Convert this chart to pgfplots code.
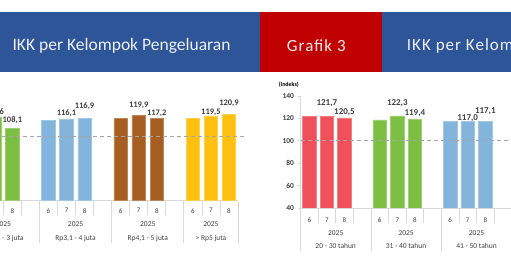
\documentclass[border=0pt]{standalone}
\usepackage{pgfplots}
\pgfplotsset{compat=1.18}
\usepackage{fontspec}
\setmainfont{Carlito}
\definecolor{hblue}{HTML}{2E5597}
\definecolor{hred}{HTML}{C00000}
\definecolor{cred}{HTML}{F0505A}
\definecolor{cgreen}{HTML}{7CBF43}
\definecolor{cblue}{HTML}{82B4DC}
\definecolor{cbrown}{HTML}{A65E22}
\definecolor{cyellow}{HTML}{FFC00F}
\definecolor{txt}{HTML}{404040}
\definecolor{lgray}{HTML}{D9D9D9}
\definecolor{dgray}{HTML}{A6A6A6}
\pgfplotsset{
  common/.style={
    anchor=south west, scale only axis, clip mode=individual,
    /pgf/number format/assume math mode=true,
    axis lines*=left, axis line style={draw=lgray, line width=0.8pt},
    xtick style={draw=none},
    xticklabel style={anchor=center, font=\fontsize{7}{8}\selectfont, text=txt},
  },
  vb/.style={ybar, bar width=13.5pt, bar shift=0pt, fill=#1, draw=#1!75!white, line width=0.6pt},
}
\tikzset{
  vl/.style={font=\bfseries\fontsize{8.5}{9}\selectfont, text=txt, inner sep=0pt},
  vr/.style={font=\bfseries\fontsize{9}{10}\selectfont, text=txt, inner sep=0pt},
  gl/.style={font=\fontsize{7.5}{8}\selectfont, text=txt, inner sep=0pt},
}
\begin{document}
\begin{tikzpicture}[x=1pt,y=1pt]
\useasboundingbox (0,0) rectangle (511,275);
\clip (0,0) rectangle (511,275);
\fill[white] (0,0) rectangle (511,275);
% header
\fill[hblue] (0,203) rectangle (260,263);
\fill[hred] (260,203) rectangle (382,263);
\fill[hblue] (382,203) rectangle (511,263);
\node[text=white!92!hblue, font=\fontsize{17.5}{20}\selectfont] at (121.5,229.5) {IKK per Kelompok Pengeluaran};
\node[text=white!92!hred, font=\fontsize{17}{20}\selectfont\addfontfeatures{LetterSpace=6}] at (316.3,229.5) {Grafik 3};
\node[anchor=west, inner sep=0pt, text=white!92!hblue, font=\fontsize{17}{20}\selectfont\addfontfeatures{LetterSpace=6}] at (406.7,229.5) {IKK per Kelompok Umur};
\node[font=\bfseries\fontsize{6}{7}\selectfont, text=black] at (288.8,190) {(Indeks)};

% left chart
\begin{axis}[common, at={(-32.75pt,74.3pt)}, width=270.75pt, height=106.7pt,
  xmin=-0.5, xmax=14.5, ymin=40, ymax=140, ytick=\empty,
  xtick={0,1,2,4,5,6,8,9,10,12,13,14},
  xticklabels={6,7,8,6,7,8,6,7,8,6,7,8},
  xticklabel style={yshift=-10pt}]
\addplot[vb=cgreen] coordinates {(0,114.0) (1,118.6) (2,108.1)};
\addplot[vb=cblue] coordinates {(4,115.5) (5,116.1) (6,116.9)};
\addplot[vb=cbrown] coordinates {(8,117.2) (9,119.9) (10,117.2)};
\addplot[vb=cyellow] coordinates {(12,116.9) (13,119.5) (14,120.9)};
\draw[dgray, line width=1pt, dash pattern=on 4pt off 3pt] (axis cs:-0.5,100) -- (axis cs:14.9,100);
\pgfplotsinvokeforeach{0.5,1.5,2.5,4.5,5.5,6.5,8.5,9.5,10.5,12.5,13.5}{
  \draw[lgray, line width=0.8pt] (axis cs:#1,40) -- ([yshift=-14.3pt]axis cs:#1,40);}
\pgfplotsinvokeforeach{-0.5,3.5,7.5,11.5,14.5}{
  \draw[lgray, line width=0.8pt] (axis cs:#1,40) -- ([yshift=-42pt]axis cs:#1,40);}
\node[vl] at (axis cs:1,122.7) {118,6};
\node[vl] at (axis cs:2,115.6) {108,1};
\node[vl] at (axis cs:5,121.9) {116,1};
\node[vl] at (axis cs:6,129.0) {116,9};
\node[vl] at (axis cs:9,129.0) {119,9};
\node[vl] at (axis cs:10,121.9) {117,2};
\node[vl] at (axis cs:13,122.8) {119,5};
\node[vl] at (axis cs:14,131.3) {120,9};
\node[gl] at ([yshift=-23.6pt]axis cs:1.5,40) {2025};
\node[gl] at ([yshift=-23.6pt]axis cs:5.5,40) {2025};
\node[gl] at ([yshift=-23.6pt]axis cs:9.5,40) {2025};
\node[gl] at ([yshift=-23.6pt]axis cs:13,40) {2025};
\node[gl] at ([yshift=-38pt]axis cs:1.5,40) {Rp2,1 - 3 juta};
\node[gl] at ([yshift=-38pt]axis cs:5.5,40) {Rp3,1 - 4 juta};
\node[gl] at ([yshift=-38pt]axis cs:9.5,40) {Rp4,1 - 5 juta};
\node[gl] at ([yshift=-38pt]axis cs:13,40) {> Rp5 juta};
\end{axis}

% right chart
\begin{axis}[common, at={(300.5pt,67pt)}, width=211.2pt, height=112pt,
  xmin=-0.5, xmax=11.5, ymin=40, ymax=140,
  ytick={40,60,...,140}, tick align=outside, major tick length=3pt,
  ytick style={draw=lgray, line width=0.8pt},
  yticklabel style={font=\bfseries\fontsize{7.5}{8}\selectfont, text=txt},
  xtick={0,1,2,4,5,6,8,9,10},
  xticklabels={6,7,8,6,7,8,6,7,8},
  xticklabel style={yshift=-9pt}]
\addplot[vb=cred] coordinates {(0,122.0) (1,121.7) (2,120.5)};
\addplot[vb=cgreen] coordinates {(4,118.6) (5,122.3) (6,119.4)};
\addplot[vb=cblue] coordinates {(8,117.6) (9,117.0) (10,117.1)};
\draw[dgray, line width=1pt, dash pattern=on 4pt off 3pt] (axis cs:-0.5,100) -- (axis cs:11.5,100);
\pgfplotsinvokeforeach{0.5,1.5,2.5,4.5,5.5,6.5,8.5,9.5,10.5}{
  \draw[lgray, line width=0.8pt] (axis cs:#1,40) -- ([yshift=-14.7pt]axis cs:#1,40);}
\pgfplotsinvokeforeach{-0.5,3.5,7.5,11.5}{
  \draw[lgray, line width=0.8pt] (axis cs:#1,40) -- ([yshift=-42.7pt]axis cs:#1,40);}
\node[vr] at (axis cs:1,133.5) {121,7};
\node[vr] at (axis cs:2,126.0) {120,5};
\node[vr] at (axis cs:5,133.5) {122,3};
\node[vr] at (axis cs:6,125.1) {119,4};
\node[vr] at (axis cs:9,120.6) {117,0};
\node[vr] at (axis cs:10,126.6) {117,1};
\node[gl] at ([yshift=-25pt]axis cs:1.5,40) {2025};
\node[gl] at ([yshift=-25pt]axis cs:5.5,40) {2025};
\node[gl] at ([yshift=-25pt]axis cs:9.5,40) {2025};
\node[gl] at ([yshift=-38pt]axis cs:1.5,40) {20 - 30 tahun};
\node[gl] at ([yshift=-38pt]axis cs:5.5,40) {31 - 40 tahun};
\node[gl] at ([yshift=-38pt]axis cs:9.5,40) {41 - 50 tahun};
\end{axis}
\end{tikzpicture}
\end{document}
